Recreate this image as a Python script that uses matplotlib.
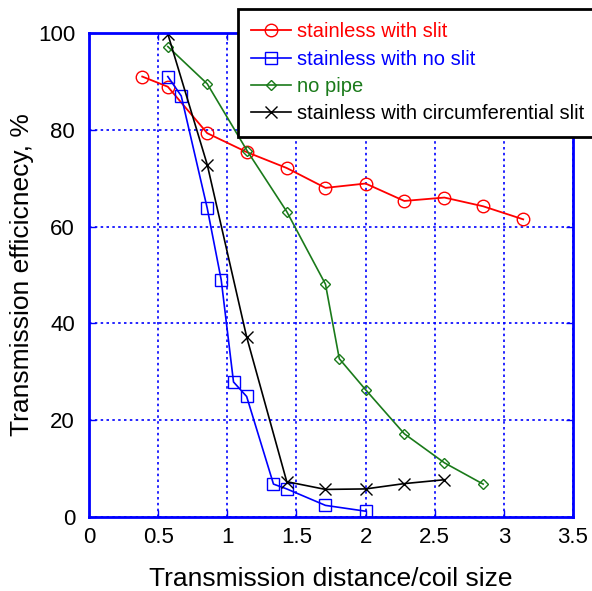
import matplotlib
matplotlib.use("Agg")
import matplotlib.pyplot as plt

plt.rcParams['font.family'] = ['Liberation Sans', 'DejaVu Sans']

# data
x_slit = [0.385, 0.57, 0.855, 1.14, 1.43, 1.71, 2.0, 2.28, 2.57, 2.85, 3.14]
y_slit = [91.0, 88.9, 79.3, 75.4, 72.1, 68.0, 68.9, 65.3, 66.0, 64.2, 61.5]

x_noslit = [0.57, 0.667, 0.855, 0.956, 1.045, 1.14, 1.334, 1.43, 1.71, 2.0]
y_noslit = [91.0, 87.0, 63.8, 49.0, 27.9, 24.9, 6.8, 5.8, 2.4, 1.2]

x_nopipe = [0.57, 0.855, 1.145, 1.43, 1.71, 1.81, 2.0, 2.28, 2.57, 2.85]
y_nopipe = [97.2, 89.5, 75.6, 63.1, 48.1, 32.7, 26.3, 17.2, 11.2, 6.8]

x_circ = [0.57, 0.855, 1.14, 1.43, 1.71, 2.0, 2.28, 2.57]
y_circ = [99.8, 72.8, 37.2, 7.3, 5.7, 5.8, 6.9, 7.7]

labels = ["stainless with slit", "stainless with no slit", "no pipe",
          "stainless with circumferential slit"]
colors = ["#ff0000", "#0000ff", "#1a7a1a", "#000000"]

fig = plt.figure(figsize=(5.92, 5.91), dpi=100)
ax = fig.add_axes([89 / 592, 1 - 517 / 591, 484 / 592, 484 / 591])

ax.plot(x_slit, y_slit, color=colors[0], lw=1.3, marker='o', ms=9,
        mfc='none', mec=colors[0], mew=1.0, label=labels[0])
ax.plot(x_noslit, y_noslit, color=colors[1], lw=1.2, marker='s', ms=8,
        mfc='none', mec=colors[1], mew=1.0, label=labels[1])
ax.plot(x_nopipe, y_nopipe, color=colors[2], lw=1.2, marker='D', ms=5.5,
        mfc='none', mec=colors[2], mew=1.0, label=labels[2])
ax.plot(x_circ, y_circ, color=colors[3], lw=1.2, marker='x', ms=9,
        mew=1.0, label=labels[3])

ax.set_xlim(0, 3.5)
ax.set_ylim(0, 100)
ax.set_xticks([0, 0.5, 1, 1.5, 2, 2.5, 3, 3.5])
ax.set_xticklabels(['0', '0.5', '1', '1.5', '2', '2.5', '3', '3.5'])
ax.set_yticks([0, 20, 40, 60, 80, 100])

ax.grid(True, color='#0000ff', linestyle=(0, (1.5, 2)), lw=1.2)
for s in ax.spines.values():
    s.set_color('#0000ff')
    s.set_linewidth(2)
ax.tick_params(direction='in', length=5, width=1, color='#0000ff',
               top=True, right=True, labelsize=16)
ax.tick_params(axis='y', pad=10)
ax.tick_params(axis='x', pad=7)

ax.set_xlabel("Transmission distance/coil size", fontsize=19, labelpad=14)
ax.set_ylabel("Transmission efficicnecy, %", fontsize=19, labelpad=3)

leg = ax.legend(loc='upper left', bbox_to_anchor=(238 / 592, 1 - 9 / 591),
                bbox_transform=fig.transFigure, fontsize=14.5, frameon=True,
                fancybox=False, framealpha=1, edgecolor='black',
                handlelength=2.0, handletextpad=0.3, borderaxespad=0,
                borderpad=0.65, labelspacing=0.42)
leg.get_frame().set_linewidth(2)
for txt, c in zip(leg.get_texts(), colors):
    txt.set_color(c)

fig.savefig("out.png", dpi=100)
